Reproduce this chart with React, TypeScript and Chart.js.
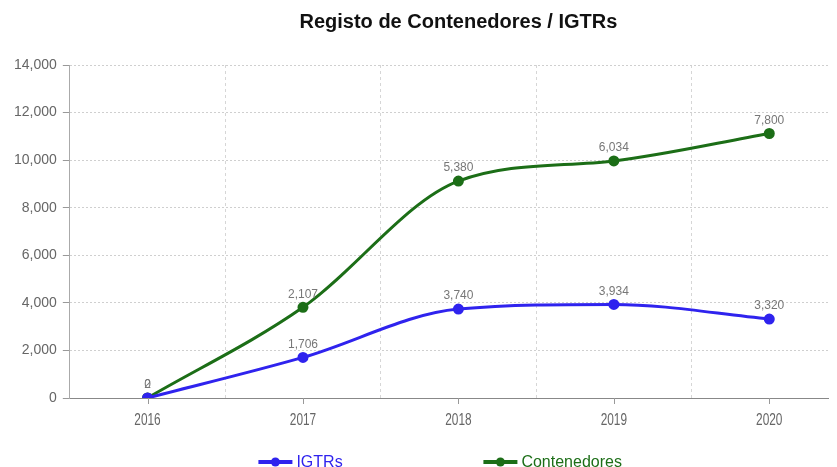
import { useEffect, useRef } from 'react';
import { Chart, registerables } from 'chart.js';

Chart.register(...registerables);

const chartTitle = 'Registo de Contenedores / IGTRs';
const years = ['2016', '2017', '2018', '2019', '2020'];
const igtrs = [0, 1706, 3740, 3934, 3320];
const contenedores = [2, 2107, 5380, 6034, 7800];
const seriesNames = ['IGTRs', 'Contenedores'];
const seriesColors = ['#2f23ee', '#1c6e17'];
const yMin = 0;
const yMax = 14000;
const yStep = 2000;

const fmt = (v: number) => Number(v).toLocaleString('en-US');

const valueLabels = {
  id: 'valueLabels',
  afterDatasetsDraw(chart: any) {
    const ctx = chart.ctx;
    ctx.save();
    ctx.font = '12px Arial, "Liberation Sans", sans-serif';
    ctx.fillStyle = '#777';
    ctx.textAlign = 'center';
    ctx.textBaseline = 'bottom';
    chart.data.datasets.forEach((ds: any, i: number) => {
      const meta = chart.getDatasetMeta(i);
      meta.data.forEach((pt: any, j: number) => {
        ctx.fillText(fmt(ds.data[j]), pt.x, pt.y - 7);
      });
    });
    ctx.restore();
  },
};

const xTickMarks = {
  id: 'xTickMarks',
  afterDraw(chart: any) {
    const ctx = chart.ctx;
    const sx = chart.scales.x;
    const bottom = chart.chartArea.bottom;
    ctx.save();
    ctx.strokeStyle = '#999';
    ctx.lineWidth = 1;
    ctx.fillStyle = '#666';
    ctx.font = '16px Arial, "Liberation Sans", sans-serif';
    ctx.textAlign = 'center';
    ctx.textBaseline = 'middle';
    const labels = chart.data.labels;
    for (let j = 0; j < labels.length; j++) {
      const xp = sx.getPixelForValue(j);
      const x = Math.round(xp) + 0.5;
      ctx.beginPath();
      ctx.moveTo(x, bottom);
      ctx.lineTo(x, bottom + 6);
      ctx.stroke();
      ctx.save();
      ctx.translate(xp, bottom + 22);
      ctx.scale(0.74, 1.05);
      ctx.fillText(String(labels[j]), 0, 0);
      ctx.restore();
    }
    ctx.restore();
  },
};

const customLegend = {
  id: 'customLegend',
  afterDraw(chart: any) {
    const ctx = chart.ctx;
    const ca = chart.chartArea;
    const cx = (ca.left + ca.right) / 2;
    const y = ca.bottom + 64;
    const starts = [cx - 200, cx + 25];
    ctx.save();
    ctx.font = '16px Arial, "Liberation Sans", sans-serif';
    ctx.textBaseline = 'middle';
    ctx.textAlign = 'left';
    chart.data.datasets.forEach((ds: any, i: number) => {
      const x0 = starts[i];
      const color = ds.borderColor;
      ctx.strokeStyle = color;
      ctx.fillStyle = color;
      ctx.lineWidth = 4;
      ctx.beginPath();
      ctx.moveTo(x0, y);
      ctx.lineTo(x0 + 34, y);
      ctx.stroke();
      ctx.beginPath();
      ctx.arc(x0 + 17, y, 4.5, 0, Math.PI * 2);
      ctx.fill();
      ctx.fillText(ds.label, x0 + 38, y + 1);
    });
    ctx.restore();
  },
};

export default function App() {
  const ref = useRef<HTMLCanvasElement | null>(null);

  useEffect(() => {
    if (!ref.current) return;
    const chart = new Chart(ref.current, {
      type: 'line',
      data: {
        labels: years,
        datasets: [
          {
            label: seriesNames[0],
            data: igtrs,
            borderColor: seriesColors[0],
            backgroundColor: seriesColors[0],
            pointBackgroundColor: seriesColors[0],
            pointBorderColor: seriesColors[0],
            borderWidth: 3,
            pointRadius: 4,
            cubicInterpolationMode: 'monotone',
            fill: false,
          },
          {
            label: seriesNames[1],
            data: contenedores,
            borderColor: seriesColors[1],
            backgroundColor: seriesColors[1],
            pointBackgroundColor: seriesColors[1],
            pointBorderColor: seriesColors[1],
            borderWidth: 3,
            pointRadius: 4,
            cubicInterpolationMode: 'monotone',
            fill: false,
          },
        ],
      },
      options: {
        animation: false,
        responsive: true,
        maintainAspectRatio: false,
        layout: { padding: { top: 0, right: 11, bottom: 25, left: 0 } },
        plugins: {
          legend: { display: false },
          tooltip: { enabled: false },
          title: {
            display: true,
            text: chartTitle,
            fullSize: false,
            color: '#111',
            font: { family: 'Arial, "Liberation Sans", sans-serif', size: 20, weight: 'bold' },
            padding: { top: 2, bottom: 31 },
          },
        },
        scales: {
          x: {
            offset: true,
            grid: {
              offset: true,
              color: '#d6d6d6',
              drawTicks: false,
            },
            border: { display: true, color: '#888', dash: [3, 3] },
            ticks: {
              padding: 13,
              color: 'rgba(0,0,0,0)',
              font: { family: 'Arial, sans-serif', size: 15 },
            },
          },
          y: {
            stacked: true,
            min: yMin,
            max: yMax,
            grid: {
              color: '#cfcfcf',
              tickLength: 7,
              tickColor: '#999',
            },
            border: { display: true, color: '#aaa', dash: [2, 2] },
            ticks: {
              stepSize: yStep,
              padding: 6,
              color: '#666',
              font: { family: 'Arial, "Liberation Sans", sans-serif', size: 14 },
              callback: (v: any) => fmt(v),
            },
          },
        },
      },
      plugins: [valueLabels, xTickMarks, customLegend],
    });
    return () => chart.destroy();
  }, []);

  return (
    <div style={{ width: 829, height: 459, overflow: 'hidden' }}>
      <div style={{ position: 'relative', width: 850, height: 459 }}>
        <canvas ref={ref} />
      </div>
    </div>
  );
}
